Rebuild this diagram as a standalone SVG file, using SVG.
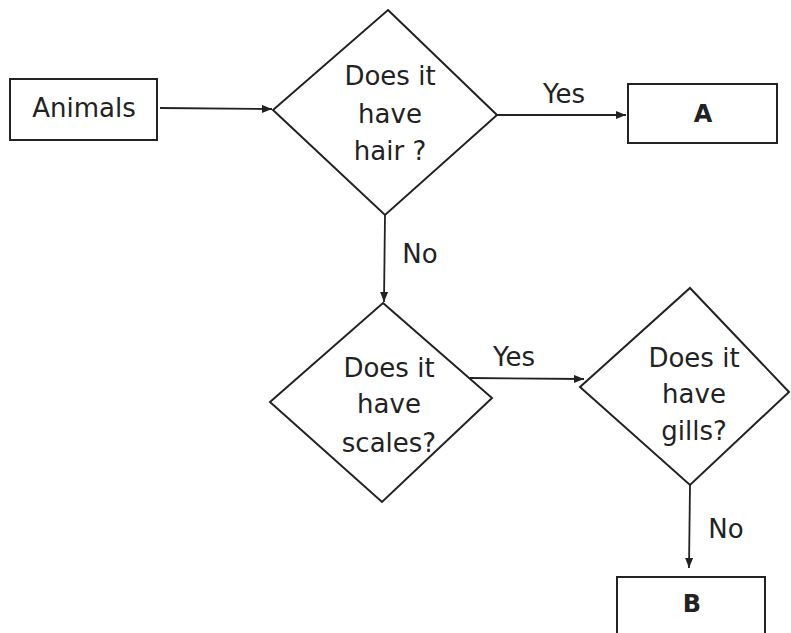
<svg xmlns="http://www.w3.org/2000/svg" width="791" height="633" viewBox="0 0 791 633">
<style>
.shape{fill:#fff;stroke:#222;stroke-width:2}
.line{fill:none;stroke:#222;stroke-width:1.8}
.t{font-family:"DejaVu Sans",Verdana,sans-serif;font-size:26px;fill:#222;text-anchor:middle}
.b{font-weight:bold;font-size:24px}
</style>
<defs>
<marker id="arr" viewBox="0 0 10 8" refX="10" refY="4" markerWidth="10" markerHeight="8" markerUnits="userSpaceOnUse" orient="auto">
<path d="M0,0 L10,4 L0,8 Z" fill="#222"/>
</marker>
</defs>
<rect width="791" height="633" fill="#fff"/>
<g id="connectors">
<line class="line" x1="160" y1="108" x2="272" y2="109" marker-end="url(#arr)"/>
<line class="line" x1="497" y1="115" x2="626" y2="115" marker-end="url(#arr)"/>
<text class="t" x="564" y="103">Yes</text>
<line class="line" x1="385" y1="215" x2="384" y2="302" marker-end="url(#arr)"/>
<text class="t" x="420" y="263">No</text>
<line class="line" x1="470" y1="378" x2="584" y2="379" marker-end="url(#arr)"/>
<text class="t" x="514" y="366">Yes</text>
<line class="line" x1="690" y1="485" x2="689" y2="568" marker-end="url(#arr)"/>
<text class="t" x="726" y="538">No</text>
</g>
<g id="animals">
<rect class="shape" x="10" y="79" width="147" height="61"/>
<text class="t" x="84" y="117">Animals</text>
</g>
<g id="hair">
<polygon class="shape" points="388,10 497,115 385,215 273,110"/>
<text class="t" x="390" y="85">Does it</text>
<text class="t" x="390" y="123">have</text>
<text class="t" x="390" y="160">hair ?</text>
</g>
<g id="a">
<rect class="shape" x="628" y="84" width="149" height="59"/>
<text class="t b" x="703" y="122">A</text>
</g>
<g id="scales">
<polygon class="shape" points="383,303 492,398 382,502 270,402"/>
<text class="t" x="389" y="377">Does it</text>
<text class="t" x="389" y="413">have</text>
<text class="t" x="389" y="452">scales?</text>
</g>
<g id="gills">
<polygon class="shape" points="690,288 789,392 690,485 580,387"/>
<text class="t" x="694" y="367">Does it</text>
<text class="t" x="694" y="403">have</text>
<text class="t" x="694" y="440">gills?</text>
</g>
<g id="b">
<rect class="shape" x="617" y="577" width="148" height="80"/>
<text class="t b" x="692" y="612">B</text>
</g>
</svg>
